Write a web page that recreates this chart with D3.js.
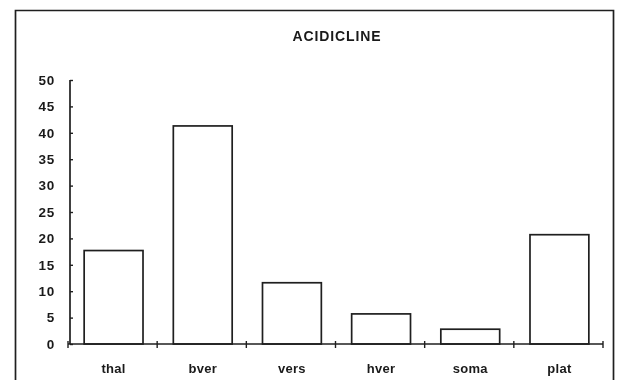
<!DOCTYPE html>
<html>
<head>
<meta charset="utf-8">
<script src="https://cdn.jsdelivr.net/npm/d3@7"></script>
<style>
  html, body { margin: 0; padding: 0; background: #fff; }
  svg { display: block; }
  text { font-family: "Liberation Sans", Arial, sans-serif; fill: #1a1a1a; }
</style>
</head>
<body>
<svg id="chart" width="621" height="380"></svg>
<script>
// Acidicline group: percentage per vegetation class
const categories = ["thal", "bver", "vers", "hver", "soma", "plat"];
const values = [17.7, 41.3, 11.6, 5.7, 2.8, 20.7];
const yTicks = [0, 5, 10, 15, 20, 25, 30, 35, 40, 45, 50];
const title = "ACIDICLINE";

const svg = d3.select("#chart");
const ink = "#1f1f1f";

const g = svg.append("g").style("filter", "blur(0.45px)");

// outer frame (open at the bottom edge of the page)
g.append("path")
  .attr("d", "M15.5,390 V10.5 H613.5 V390")
  .attr("fill", "none")
  .attr("stroke", ink)
  .attr("stroke-width", 1.7);

const x = d3.scaleBand().domain(categories).range([68, 603]).padding(0);
const y = d3.scaleLinear().domain([0, 50]).range([344, 80]);

// title
g.append("text")
  .attr("x", 337).attr("y", 41)
  .attr("text-anchor", "middle")
  .attr("font-size", 14).attr("font-weight", "bold")
  .attr("letter-spacing", 0.9)
  .text(title);

// bars
const barW = x.bandwidth() * 0.66;
g.selectAll("rect.bar")
  .data(categories.map((c, i) => ({ c, v: values[i] })))
  .join("rect")
  .attr("class", "bar")
  .attr("x", d => x(d.c) + x.bandwidth() / 2 - barW / 2 + 1)
  .attr("y", d => y(d.v))
  .attr("width", barW)
  .attr("height", d => y(0) - y(d.v))
  .attr("fill", "#fff")
  .attr("stroke", ink)
  .attr("stroke-width", 1.7);

// y axis: ticks point inward, labels to the left
const yAxis = d3.axisRight(y).tickValues(yTicks).tickSize(3).tickFormat("");
const ya = g.append("g").attr("transform", "translate(70,0)").call(yAxis);
ya.select(".domain").attr("d", `M0,${y(50)}V${y(0)}`).attr("stroke", ink).attr("stroke-width", 1.7);
ya.selectAll(".tick line").attr("stroke", ink).attr("stroke-width", 1.4);

g.append("g").selectAll("text")
  .data(yTicks)
  .join("text")
  .attr("x", 55)
  .attr("y", d => y(d) + 4.8)
  .attr("text-anchor", "end")
  .attr("font-size", 13.5).attr("font-weight", "bold")
  .attr("letter-spacing", 0.8)
  .text(d => d);

// x axis: baseline with short crossing ticks at band edges
g.append("line")
  .attr("x1", 68).attr("x2", 603)
  .attr("y1", y(0)).attr("y2", y(0))
  .attr("stroke", ink).attr("stroke-width", 1.7);

const edges = categories.map(c => x(c)).concat([x.range()[1]]);
g.append("g").selectAll("line")
  .data(edges)
  .join("line")
  .attr("x1", d => d).attr("x2", d => d)
  .attr("y1", y(0) - 3).attr("y2", y(0) + 4)
  .attr("stroke", ink).attr("stroke-width", 1.4);

g.append("g").selectAll("text")
  .data(categories)
  .join("text")
  .attr("x", d => x(d) + x.bandwidth() / 2 + 1)
  .attr("y", 373)
  .attr("text-anchor", "middle")
  .attr("font-size", 13).attr("font-weight", "bold")
  .attr("letter-spacing", 0.3)
  .text(d => d);
</script>
</body>
</html>
